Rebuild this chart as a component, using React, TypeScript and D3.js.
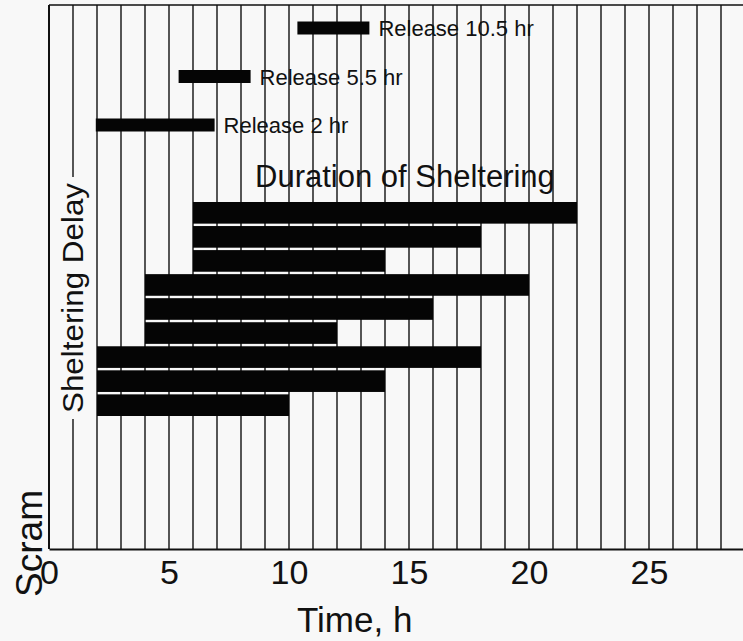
import React, { useEffect, useRef } from "react";
import * as d3 from "d3";

// sheltering rows, top to bottom
const shelterDelay = [6, 6, 6, 4, 4, 4, 2, 2, 2];
const shelterDuration = [16, 12, 8, 16, 12, 8, 16, 12, 8];

// release bars, top to bottom
const releaseLabels = ["Release 10.5 hr", "Release 5.5 hr", "Release 2 hr"];
const releaseStart = [10.35, 5.4, 1.95];
const releaseEnd = [13.35, 8.4, 6.9];

const xTicks = [0, 5, 10, 15, 20, 25];
const gridHours = d3.range(0, 29);

const FONT = "'Liberation Sans', Arial, sans-serif";

export default function App() {
  const svgRef = useRef<SVGSVGElement>(null);

  useEffect(() => {
    const width = 743;
    const height = 641;
    const top = 5;
    const bottom = 549;

    const svg = d3.select(svgRef.current)
      .attr("width", width)
      .attr("height", height);
    svg.selectAll("*").remove();

    svg.append("rect")
      .attr("width", width)
      .attr("height", height)
      .attr("fill", "#f8f8f8");

    const xScale = d3.scaleLinear().domain([0, 29]).range([49, 745]);

    const rowScale = d3.scaleBand<number>()
      .domain(d3.range(shelterDelay.length))
      .range([202, 416])
      .paddingInner(0.1);

    const releaseScale = d3.scalePoint<number>()
      .domain(d3.range(releaseLabels.length))
      .range([28, 125]);

    // vertical hour grid
    svg.append("g")
      .selectAll("line")
      .data(gridHours)
      .join("line")
        .attr("x1", d => xScale(d))
        .attr("x2", d => xScale(d))
        .attr("y1", top)
        .attr("y2", bottom)
        .attr("stroke", "#111")
        .attr("stroke-width", d => d === 0 ? 2 : 1.4);

    // top border
    svg.append("line")
      .attr("x1", xScale(0))
      .attr("x2", width)
      .attr("y1", top)
      .attr("y2", top)
      .attr("stroke", "#111")
      .attr("stroke-width", 1.6);

    // y label with knockout background over the grid
    const labelG = svg.append("g");
    const yLabel = labelG.append("text")
      .attr("transform", "translate(83, 413) rotate(-90)")
      .attr("font-family", FONT)
      .attr("font-size", 30)
      .attr("textLength", 230)
      .attr("lengthAdjust", "spacingAndGlyphs")
      .attr("fill", "#111")
      .text("Sheltering Delay");
    const bb = (yLabel.node() as SVGTextElement).getBBox();
    // rotate(-90): local y -> screen x, local x -> screen -y
    labelG.insert("rect", "text")
      .attr("x", 83 + bb.y - 1)
      .attr("y", 413 - bb.x - bb.width - 6)
      .attr("width", bb.height + 2)
      .attr("height", bb.width + 12)
      .attr("fill", "#f8f8f8");

    // x axis
    const xAxis = d3.axisBottom(xScale)
      .tickValues(xTicks)
      .tickSizeInner(0)
      .tickSizeOuter(0)
      .tickPadding(11);

    const axisG = svg.append("g")
      .attr("transform", `translate(0, ${bottom})`)
      .call(xAxis);
    axisG.select(".domain").attr("stroke", "#111").attr("stroke-width", 2);
    axisG.selectAll("text")
      .attr("font-family", FONT)
      .attr("font-size", 34)
      .attr("fill", "#111");

    // sheltering bars
    svg.append("g")
      .selectAll("rect")
      .data(shelterDelay)
      .join("rect")
        .attr("x", d => xScale(d))
        .attr("y", (d, i) => rowScale(i)!)
        .attr("width", (d, i) => xScale(d + shelterDuration[i]) - xScale(d))
        .attr("height", rowScale.bandwidth())
        .attr("fill", "#050505");

    // release bars
    svg.append("g")
      .selectAll("rect")
      .data(releaseStart)
      .join("rect")
        .attr("x", d => xScale(d))
        .attr("y", (d, i) => releaseScale(i)! - 6.5)
        .attr("width", (d, i) => xScale(releaseEnd[i]) - xScale(d))
        .attr("height", 13)
        .attr("fill", "#050505");

    svg.append("g")
      .selectAll("text")
      .data(releaseLabels)
      .join("text")
        .attr("x", (d, i) => xScale(releaseEnd[i]) + 9)
        .attr("y", (d, i) => releaseScale(i)! + 8)
        .attr("font-family", FONT)
        .attr("font-size", 22)
        .attr("fill", "#111")
        .text(d => d);

    svg.append("text")
      .attr("x", 255)
      .attr("y", 187)
      .attr("font-family", FONT)
      .attr("font-size", 31)
      .attr("fill", "#111")
      .text("Duration of Sheltering");

    svg.append("text")
      .attr("transform", "translate(42, 597) rotate(-90)")
      .attr("font-family", FONT)
      .attr("font-size", 37)
      .attr("textLength", 107)
      .attr("lengthAdjust", "spacingAndGlyphs")
      .attr("fill", "#111")
      .text("Scram");

    svg.append("text")
      .attr("x", 297)
      .attr("y", 632)
      .attr("font-family", FONT)
      .attr("font-size", 35)
      .attr("fill", "#111")
      .text("Time, h");
  }, []);

  return (
    <div>
      <svg ref={svgRef} style={{ position: "absolute", left: 0, top: 0, display: "block" }}></svg>
    </div>
  );
}
